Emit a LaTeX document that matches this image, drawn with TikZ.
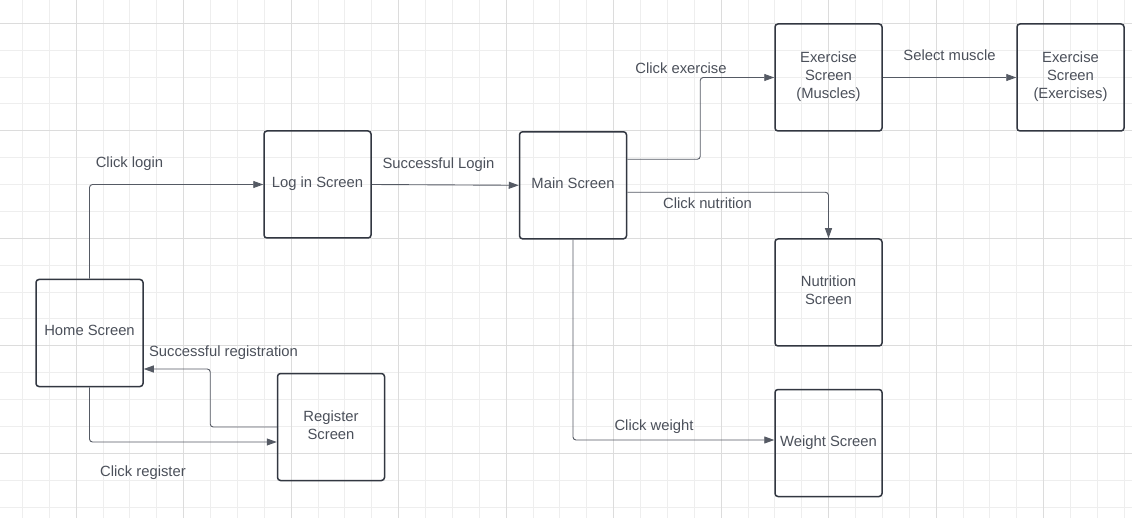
\documentclass[tikz,border=0pt]{standalone}
\usepackage{fontspec}
\setmainfont{Liberation Sans}
\usetikzlibrary{arrows.meta,calc}
\definecolor{txtgray}{RGB}{75,80,90}
\definecolor{boxline}{RGB}{50,55,65}
\definecolor{linkgray}{RGB}{85,90,100}
\definecolor{gridminor}{RGB}{238,238,238}
\definecolor{gridmajor}{RGB}{220,220,220}
\begin{document}
\begin{tikzpicture}[x=1pt,y=-1pt,
      screen/.style ={rectangle, draw=boxline, line width=1.5pt, rounded corners=3pt,
                      minimum size=107pt, inner sep=2pt, align=center, text=txtgray,
                      text depth=4.6pt, font=\fontsize{14.8}{18}\selectfont},
      link/.style ={draw=linkgray, line width=0.9pt, rounded corners=3pt,
                    -{Triangle[length=10pt,width=7pt]}},
      linklabel/.style ={text=txtgray, inner sep=0pt, anchor=base,
                         font=\fontsize{14.8}{18}\selectfont}]
   \useasboundingbox (0,0) rectangle (1132,518);
   % background grid
   \begin{scope}
   \clip (0,0) rectangle (1132,518);
   \fill[white] (0,0) rectangle (1132,518);
   \foreach \i in {0,...,43} {
      \pgfmathsetmacro{\gx}{-4.5+26.875*\i}
      \draw[gridminor, line width=0.8pt] (\gx,0) -- (\gx,518);
   }
   \foreach \j in {0,...,20} {
      \pgfmathsetmacro{\gy}{-3.6+26.875*\j}
      \draw[gridminor, line width=0.8pt] (0,\gy) -- (1132,\gy);
   }
   \foreach \i in {0,...,10} {
      \pgfmathsetmacro{\gx}{76+107.5*\i}
      \draw[gridmajor, line width=0.8pt] (\gx,0) -- (\gx,518);
   }
   \foreach \j in {0,...,4} {
      \pgfmathsetmacro{\gy}{23.3+107.5*\j}
      \draw[gridmajor, line width=0.8pt] (0,\gy) -- (1132,\gy);
   }
   \end{scope}
   % screens
   \node[screen] (home)   at (89.5,333)    {Home Screen};
   \node[screen] (reg)    at (331,427)     {Register\\Screen};
   \node[screen] (login)  at (317.5,184.5) {Log in Screen};
   \node[screen] (main)   at (573,185.3)   {Main Screen};
   \node[screen] (exmus)  at (828.5,77.5)  {Exercise\\Screen\\(Muscles)};
   \node[screen] (exex)   at (1070.5,77.5) {Exercise\\Screen\\(Exercises)};
   \node[screen] (nutri)  at (828.5,292.5) {Nutrition\\Screen};
   \node[screen] (weight) at (828.5,443)   {Weight Screen};
   % links
   \draw[link] (home.north) |- (login.west);
   \draw[link] (reg.west) -- ++(-66.5,0) |- ($(home.east)+(0,36)$);
   \draw[link] (home.south) |- ($(reg.west)+(0,15)$);
   \draw[link] (login.east) -- (main.west);
   \draw[link] ($(main.east)+(0,-26)$) -- ++(73,0) |- (exmus.west);
   \draw[link] ($(main.east)+(0,7)$) -| (nutri.north);
   \draw[link] (main.south) |- ($(weight.west)+(0,-3)$);
   \draw[link] (exmus.east) -- (exex.west);
   % labels
   \node[linklabel] (lblogin)   at (129.5,168)   {Click login};
   \node[linklabel] (lbsuclog)  at (438.5,168.3) {Successful Login};
   \node[linklabel] (lbsucreg)  at (223.5,356.2) {Successful registration};
   \node[linklabel] (lbreg)     at (143,476.2)   {Click register};
   \node[linklabel] (lbexer)    at (681,74)      {Click exercise};
   \node[linklabel] (lbnutri)   at (707.5,208.2) {Click nutrition};
   \node[linklabel] (lbweight)  at (654,430.2)   {Click weight};
   \node[linklabel] (lbmuscle)  at (949.5,60.2)  {Select muscle};
\end{tikzpicture}
\end{document}
